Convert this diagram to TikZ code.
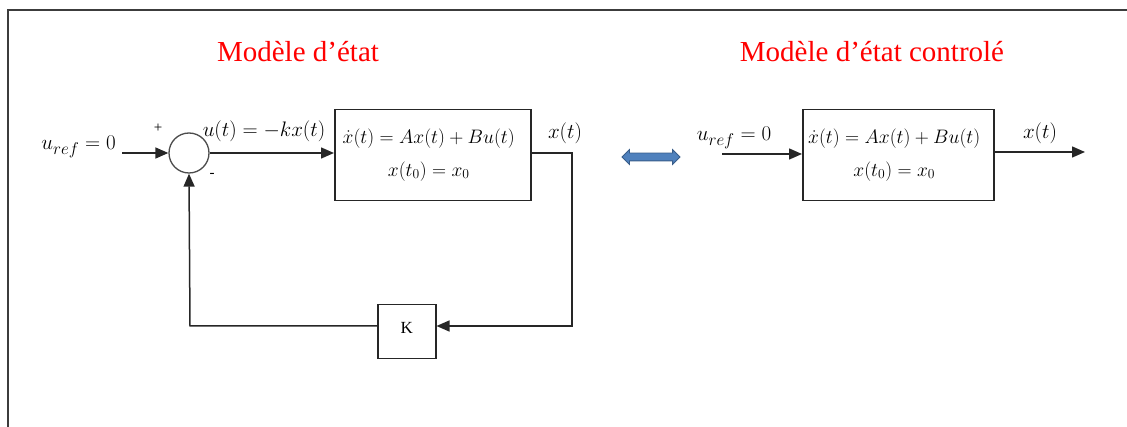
\RequirePackage{fix-cm}
\documentclass[tikz,border=0pt]{standalone}
\usepackage{fontspec}
\setmainfont{Liberation Serif}
\usetikzlibrary{arrows.meta,shapes.arrows}
\definecolor{frame}{RGB}{60,60,60}
\definecolor{arrblue}{RGB}{79,129,189}
\definecolor{arrblueedge}{RGB}{56,93,138}
\newcommand{\refsub}{\mbox{\fontsize{17}{19}\selectfont$ref$}}
\tikzset{
  x=1pt, y=-1pt,
  wire/.style={line width=1.5pt, draw=black!85},
  sig/.style={wire, -{Triangle[length=13pt,width=11pt]}},
  blockbox/.style={draw=black!85, line width=1.5pt, fill=white},
  title/.style={text=red, font=\fontsize{29}{34}\selectfont},
  mlabel/.style={font=\fontsize{21}{25}\selectfont, inner sep=0pt},
  smallsign/.style={font=\fontsize{15}{17}\selectfont, inner sep=0pt},
  eqbox/.style={blockbox, minimum height=91pt, anchor=north west, align=center, font=\fontsize{19.5}{23}\selectfont, inner sep=0pt},
}
\begin{document}
\begin{tikzpicture}
\useasboundingbox (0,0) rectangle (1127,427);
% frame
\draw[draw=frame, line width=1.5pt] (8,427) -- (8,10) -- (1127,10);
% titles
\node[title] (t1) at (298,52) {Modèle d’état};
\node[title] (t2) at (872,52) {Modèle d’état controlé};
% left diagram
\node[mlabel, anchor=east] (uref1) at (116,147) {$u_{\refsub}=0$};
\coordinate (in1) at (122,153);
\node[draw=black!70, line width=1.3pt, circle, minimum size=40pt, inner sep=0pt] (sum) at (189,153) {};
\node[smallsign] (plus) at (158,128) {+};
\node[smallsign] (minus) at (212,175) {-};
\node[eqbox, minimum width=196pt] (box1) at (334,109)
  {\raisebox{6pt}{$\dot{x}(t)=Ax(t)+Bu(t)$}\hspace*{8pt}\\[10pt]\raisebox{6pt}{$x(t_0)=x_0$}\hspace*{8pt}};
\node[mlabel] (u) at (264,131) {$u(t)=-kx(t)$};
\node[mlabel] (xt1) at (565,133) {$x(t)$};
\node[blockbox, minimum width=58pt, minimum height=54pt, anchor=north west, font=\fontsize{17}{19}\selectfont, inner sep=0pt, text depth=0pt] (K) at (377,304) {\raisebox{8pt}{K}};
\coordinate (c1) at (572,153);
\coordinate (c2) at (572,326);
\coordinate (c3) at (190,326);
\draw[sig] (in1) -- (sum.west);
\draw[sig] (sum.east) -- (sum.east -| box1.west);
\draw[sig] (box1.east |- c1) -- (c1) -- (c2) -- (K.east |- c2);
\draw[sig] (K.west |- c3) -- (c3) -- (sum.south);
% equivalence arrow
\node[double arrow, fill=arrblue, draw=arrblueedge, line width=0.8pt, minimum height=58pt, inner xsep=0pt, inner ysep=3.5pt, double arrow head extend=3.5pt] (eq) at (651,157) {};
% right diagram
\node[mlabel] (uref2) at (734,138) {$u_{\refsub}=0$};
\coordinate (in2) at (722,154);
\node[eqbox, minimum width=191pt] (box2) at (802,109)
  {\raisebox{6pt}{$\dot{x}(t)=Ax(t)+Bu(t)$}\hspace*{8pt}\\[10pt]\raisebox{6pt}{$x(t_0)=x_0$}\hspace*{8pt}};
\node[mlabel] (xt2) at (1040,133) {$x(t)$};
\coordinate (out2) at (1085,152);
\draw[sig] (in2) -- (box2.west |- in2);
\draw[sig] (box2.east |- out2) -- (out2);
\end{tikzpicture}
\end{document}
